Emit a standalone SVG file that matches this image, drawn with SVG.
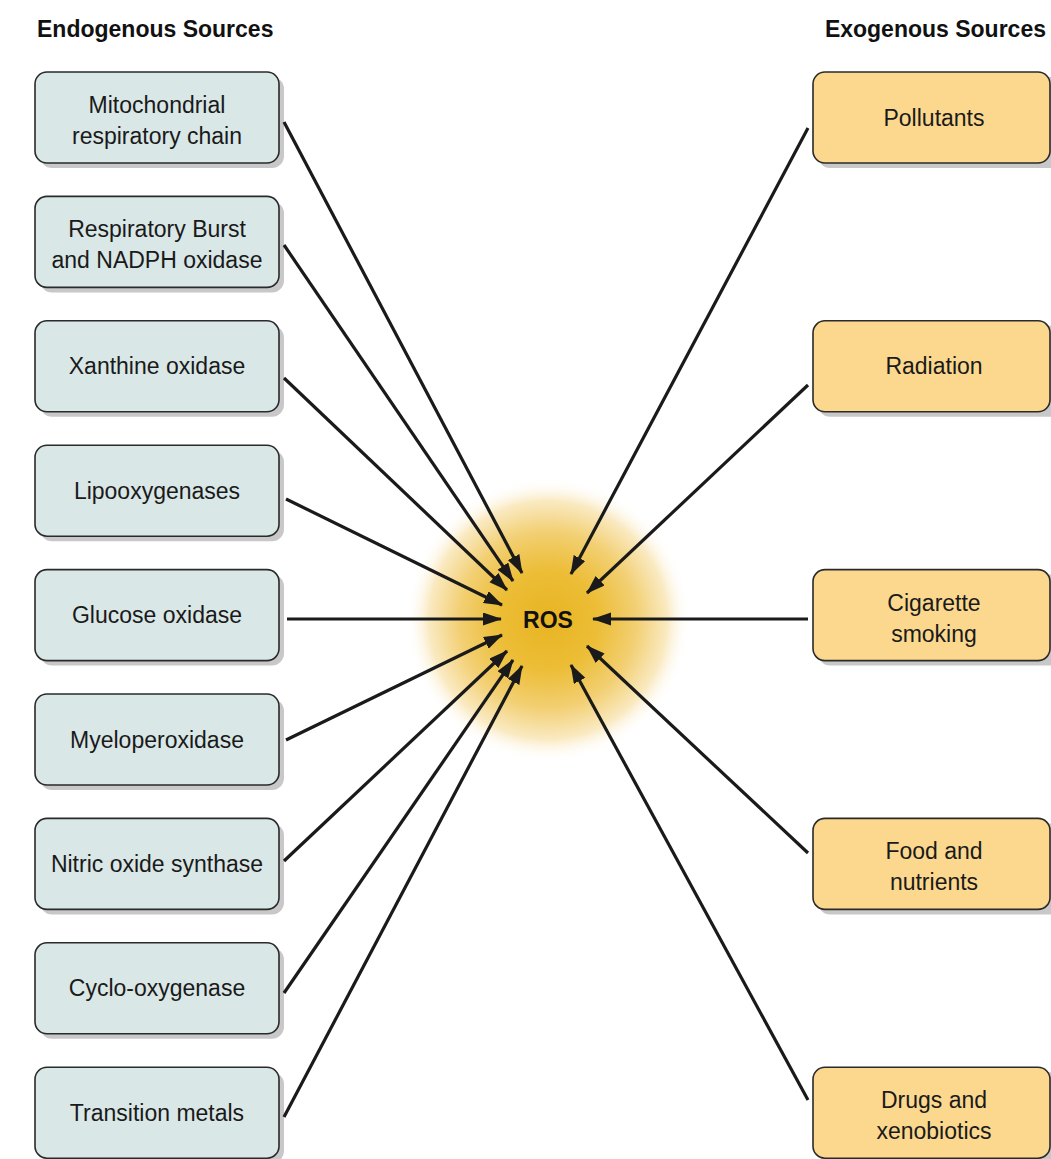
<svg xmlns="http://www.w3.org/2000/svg" width="1051" height="1159" viewBox="0 0 1051 1159">
<defs>
<radialGradient id="glow" cx="548" cy="620" r="142" gradientUnits="userSpaceOnUse">
<stop offset="0" stop-color="#e8b422"/>
<stop offset="0.35" stop-color="#ecbd36"/>
<stop offset="0.62" stop-color="#f2cf72"/>
<stop offset="0.84" stop-color="#faeac2"/>
<stop offset="1" stop-color="#ffffff" stop-opacity="0"/>
</radialGradient>
<marker id="arr" markerUnits="userSpaceOnUse" markerWidth="20" markerHeight="14" refX="18" refY="6.5" orient="auto">
<path d="M0,0 L19,6.5 L0,13 Z" fill="#1a1a1a"/>
</marker>
<style>
.hdr{font-family:"Liberation Sans",Arial,sans-serif;font-weight:bold;font-size:23px;fill:#111}
.lbl{font-family:"Liberation Sans",Arial,sans-serif;font-size:23px;fill:#1a1a1a;text-anchor:middle}
.ros{font-family:"Liberation Sans",Arial,sans-serif;font-weight:bold;font-size:23px;fill:#111;text-anchor:middle}
.shadow{fill:#c8c8c8}
.endo{fill:#d9e7e7;stroke:#2a2a2a;stroke-width:1.6}
.exo{fill:#fbd88e;stroke:#2a2a2a;stroke-width:1.6}
.conn line{stroke:#1a1a1a;stroke-width:3.2;marker-end:url(#arr)}
</style>
</defs>
<rect x="0" y="0" width="1051" height="1159" fill="#ffffff"/>
<circle cx="548" cy="620" r="142" fill="url(#glow)"/>
<text class="hdr" x="37" y="37">Endogenous Sources</text>
<text class="hdr" x="1046" y="37" text-anchor="end">Exogenous Sources</text>

<g id="n-mito"><rect class="shadow" x="40" y="77" width="244" height="91" rx="12"/><rect class="endo" x="35" y="72" width="244" height="91" rx="12"/><text class="lbl" x="157" y="113">Mitochondrial</text><text class="lbl" x="157" y="144">respiratory chain</text></g>
<g id="n-burst"><rect class="shadow" x="40" y="201.4" width="244" height="91" rx="12"/><rect class="endo" x="35" y="196.4" width="244" height="91" rx="12"/><text class="lbl" x="157" y="237.4">Respiratory Burst</text><text class="lbl" x="157" y="268.4">and NADPH oxidase</text></g>
<g id="n-xanthine"><rect class="shadow" x="40" y="325.8" width="244" height="91" rx="12"/><rect class="endo" x="35" y="320.8" width="244" height="91" rx="12"/><text class="lbl" x="157" y="374.3">Xanthine oxidase</text></g>
<g id="n-lipo"><rect class="shadow" x="40" y="450.2" width="244" height="91" rx="12"/><rect class="endo" x="35" y="445.2" width="244" height="91" rx="12"/><text class="lbl" x="157" y="498.7">Lipooxygenases</text></g>
<g id="n-glucose"><rect class="shadow" x="40" y="574.6" width="244" height="91" rx="12"/><rect class="endo" x="35" y="569.6" width="244" height="91" rx="12"/><text class="lbl" x="157" y="623.1">Glucose oxidase</text></g>
<g id="n-myelo"><rect class="shadow" x="40" y="699" width="244" height="91" rx="12"/><rect class="endo" x="35" y="694" width="244" height="91" rx="12"/><text class="lbl" x="157" y="747.5">Myeloperoxidase</text></g>
<g id="n-nos"><rect class="shadow" x="40" y="823.4" width="244" height="91" rx="12"/><rect class="endo" x="35" y="818.4" width="244" height="91" rx="12"/><text class="lbl" x="157" y="871.9">Nitric oxide synthase</text></g>
<g id="n-cox"><rect class="shadow" x="40" y="947.8" width="244" height="91" rx="12"/><rect class="endo" x="35" y="942.8" width="244" height="91" rx="12"/><text class="lbl" x="157" y="996.3">Cyclo-oxygenase</text></g>
<g id="n-metals"><rect class="shadow" x="40" y="1072.2" width="244" height="91" rx="12"/><rect class="endo" x="35" y="1067.2" width="244" height="91" rx="12"/><text class="lbl" x="157" y="1120.7">Transition metals</text></g>

<g id="n-pollutants"><rect class="shadow" x="818" y="77" width="244" height="91" rx="12"/><rect class="exo" x="813" y="72" width="237" height="91" rx="12"/><text class="lbl" x="934" y="125.5">Pollutants</text></g>
<g id="n-radiation"><rect class="shadow" x="818" y="325.8" width="244" height="91" rx="12"/><rect class="exo" x="813" y="320.8" width="237" height="91" rx="12"/><text class="lbl" x="934" y="374.3">Radiation</text></g>
<g id="n-cigarette"><rect class="shadow" x="818" y="574.6" width="244" height="91" rx="12"/><rect class="exo" x="813" y="569.6" width="237" height="91" rx="12"/><text class="lbl" x="934" y="610.6">Cigarette</text><text class="lbl" x="934" y="641.6">smoking</text></g>
<g id="n-food"><rect class="shadow" x="818" y="823.4" width="244" height="91" rx="12"/><rect class="exo" x="813" y="818.4" width="237" height="91" rx="12"/><text class="lbl" x="934" y="859.4">Food and</text><text class="lbl" x="934" y="890.4">nutrients</text></g>
<g id="n-drugs"><rect class="shadow" x="818" y="1072.2" width="244" height="91" rx="12"/><rect class="exo" x="813" y="1067.2" width="237" height="91" rx="12"/><text class="lbl" x="934" y="1108.2">Drugs and</text><text class="lbl" x="934" y="1139.2">xenobiotics</text></g>

<g id="n-ros"><text class="ros" x="548" y="628">ROS</text></g>

<g class="conn" id="connectors">
<line x1="284" y1="122" x2="522" y2="573"/>
<line x1="284" y1="245" x2="513" y2="581"/>
<line x1="284" y1="378" x2="507" y2="590"/>
<line x1="286" y1="499" x2="502" y2="605"/>
<line x1="287" y1="619" x2="501" y2="619"/>
<line x1="286" y1="740" x2="502" y2="635"/>
<line x1="284" y1="861" x2="507" y2="651"/>
<line x1="284" y1="993" x2="513" y2="660"/>
<line x1="284" y1="1117" x2="522" y2="666"/>
<line x1="808" y1="128" x2="571" y2="574"/>
<line x1="808" y1="385" x2="587" y2="593"/>
<line x1="808" y1="619" x2="593" y2="619"/>
<line x1="808" y1="853" x2="587" y2="646"/>
<line x1="808" y1="1100" x2="571" y2="665"/>
</g>
</svg>
